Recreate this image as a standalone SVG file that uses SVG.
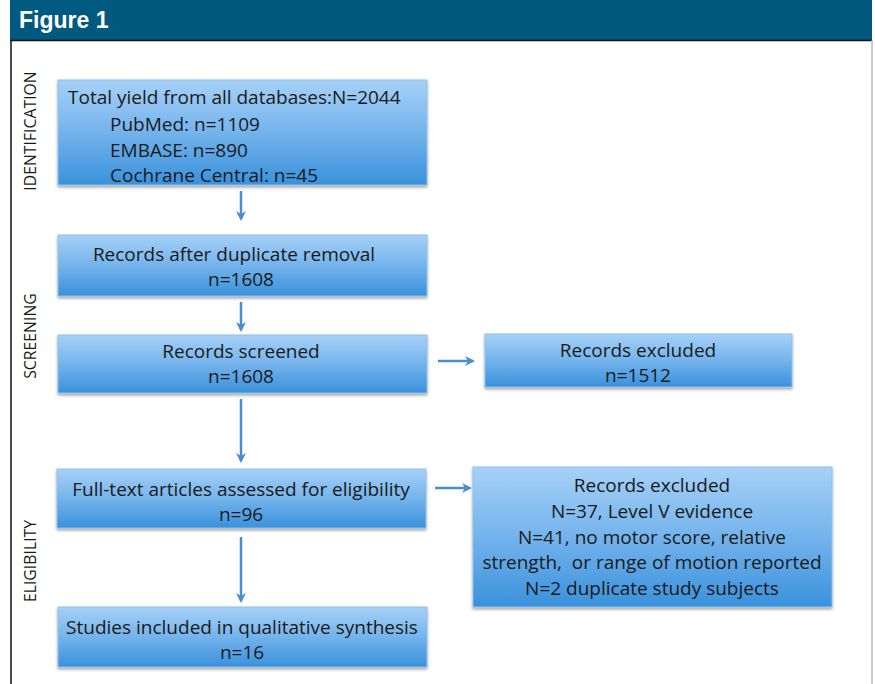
<svg xmlns="http://www.w3.org/2000/svg" width="875" height="684" viewBox="0 0 875 684">
<defs>
<linearGradient id="g" x1="0" y1="0" x2="0" y2="1">
<stop offset="0" stop-color="#a6d1f7"/>
<stop offset="0.5" stop-color="#74b3ec"/>
<stop offset="1" stop-color="#3a91dc"/>
</linearGradient>
<filter id="sh" x="-5%" y="-10%" width="110%" height="130%">
<feDropShadow dx="0" dy="2" stdDeviation="1.5" flood-color="#000" flood-opacity="0.35"/>
</filter>
<marker id="ah" viewBox="0 0 10 10" refX="8" refY="5" markerWidth="4" markerHeight="4" orient="auto">
<path d="M0,0 L10,5 L0,10 L3,5 z" fill="#4a8ccc"/>
</marker>
<style>
.box{fill:url(#g);stroke:#8cc0ea;stroke-width:1;filter:url(#sh)}
.t{font-family:"Open Sans","Liberation Sans",sans-serif;font-size:19px;fill:#1a1a1a}
.c{text-anchor:middle}
.side{font-family:"Open Sans","Liberation Sans",sans-serif;font-size:15.8px;fill:#1a1a1a;text-anchor:middle}
.conn line{stroke:#4a8ccc;stroke-width:2.5;marker-end:url(#ah)}
</style>
</defs>
<rect width="875" height="684" fill="#fff"/>
<rect x="10" y="0" width="862" height="40" fill="#005a80"/>
<line x1="10" y1="40.5" x2="872" y2="40.5" stroke="#111" stroke-width="1.5"/>
<line x1="11" y1="40" x2="11" y2="684" stroke="#111" stroke-width="1.5"/>
<line x1="872" y1="40" x2="872" y2="684" stroke="#aaa" stroke-width="1.2"/>
<text x="19" y="28" font-family="Liberation Sans, Arial, sans-serif" font-weight="bold" font-size="23" fill="#fff">Figure 1</text>

<text class="side" transform="translate(36,131) rotate(-90)">IDENTIFICATION</text>
<text class="side" transform="translate(36,336) rotate(-90)">SCREENING</text>
<text class="side" transform="translate(36,561) rotate(-90)">ELIGIBILITY</text>

<g id="identification">
<rect class="box" x="58" y="80" width="369" height="105"/>
<text class="t" x="68" y="104">Total yield from all databases:N=2044</text>
<text class="t" x="110" y="131">PubMed: n=1109</text>
<text class="t" x="110" y="157">EMBASE: n=890</text>
<text class="t" x="110" y="182">Cochrane Central: n=45</text>
</g>
<g id="dedup">
<rect class="box" x="58" y="235" width="369" height="61"/>
<text class="t c" x="234" y="261">Records after duplicate removal</text>
<text class="t c" x="241" y="286">n=1608</text>
</g>
<g id="screened">
<rect class="box" x="58" y="335" width="369" height="58"/>
<text class="t c" x="241" y="358">Records screened</text>
<text class="t c" x="241" y="383">n=1608</text>
</g>
<g id="excluded1">
<rect class="box" x="485" y="334" width="307" height="53"/>
<text class="t c" x="638" y="357">Records excluded</text>
<text class="t c" x="638" y="382">n=1512</text>
</g>
<g id="fulltext">
<rect class="box" x="57" y="469" width="369" height="59"/>
<text class="t c" x="241" y="496">Full-text articles assessed for eligibility</text>
<text class="t c" x="241" y="521">n=96</text>
</g>
<g id="excluded2">
<rect class="box" x="473" y="467" width="359" height="140"/>
<text class="t c" x="652" y="492">Records excluded</text>
<text class="t c" x="652" y="518">N=37, Level V evidence</text>
<text class="t c" x="652" y="544">N=41, no motor score, relative</text>
<text class="t c" x="652" y="569">strength,&#160; or range of motion reported</text>
<text class="t c" x="652" y="595">N=2 duplicate study subjects</text>
</g>
<g id="included">
<rect class="box" x="58" y="607" width="369" height="60"/>
<text class="t c" x="242" y="634">Studies included in qualitative synthesis</text>
<text class="t c" x="242" y="659">n=16</text>
</g>

<g class="conn">
<line x1="241" y1="191" x2="241" y2="219"/>
<line x1="241" y1="302" x2="241" y2="330"/>
<line x1="241" y1="399" x2="241" y2="461"/>
<line x1="241" y1="537" x2="241" y2="601"/>
<line x1="438" y1="361" x2="473" y2="361"/>
<line x1="435" y1="488" x2="470" y2="488"/>
</g>
</svg>
